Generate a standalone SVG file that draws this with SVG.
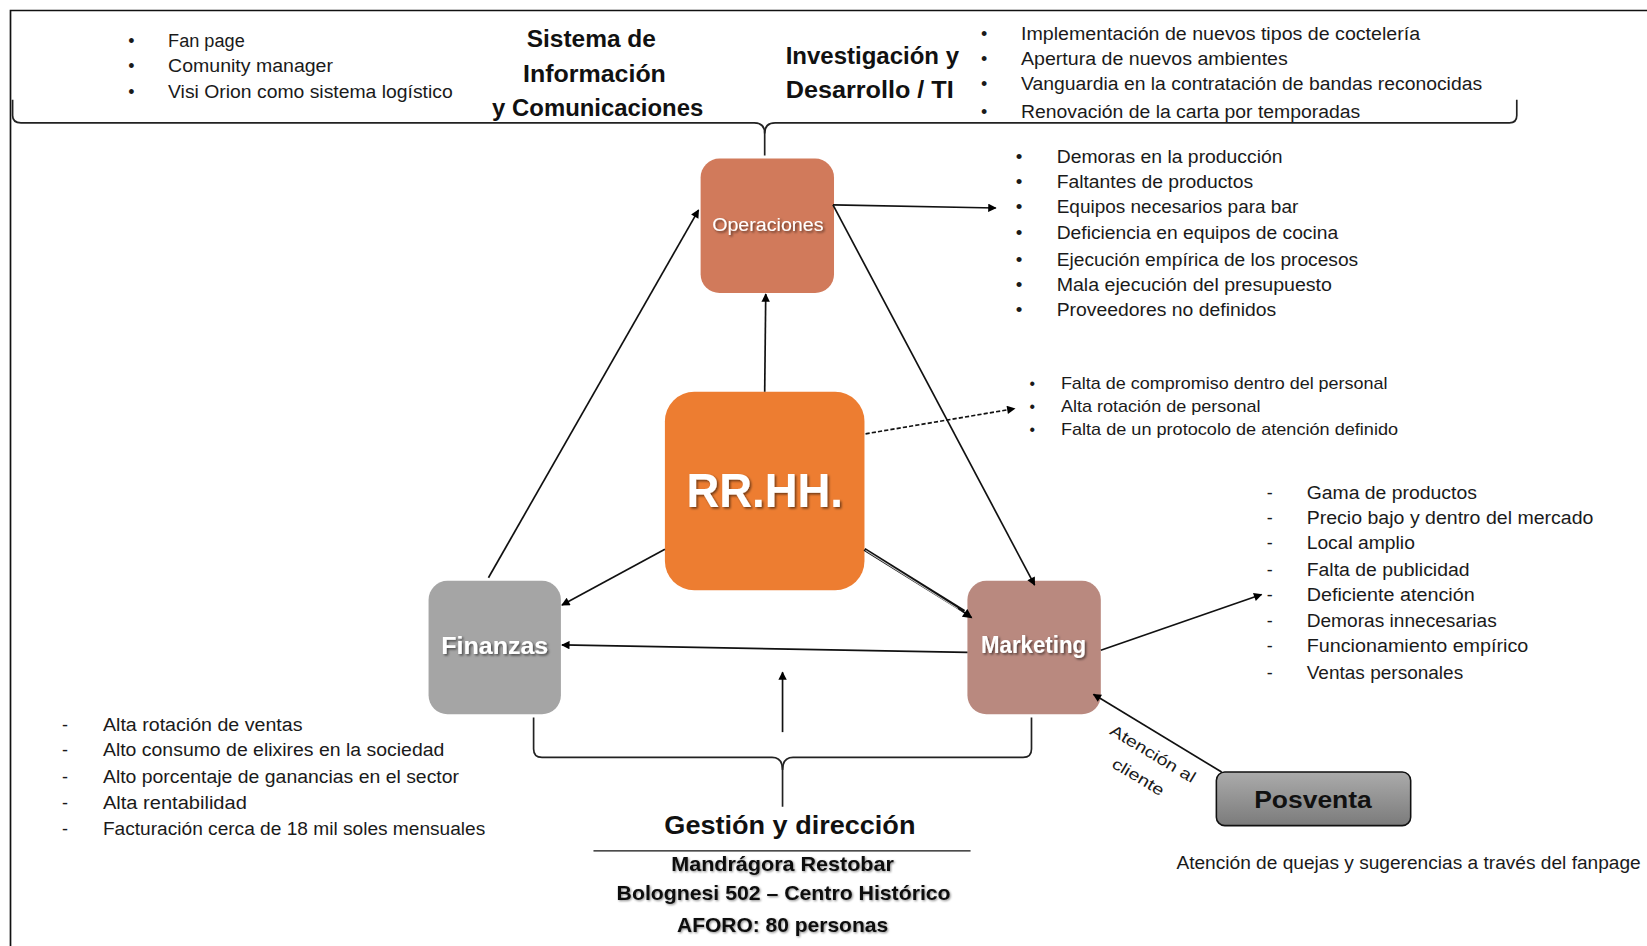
<svg xmlns="http://www.w3.org/2000/svg" width="1647" height="946" viewBox="0 0 1647 946">
<style>
.t{font-family:"Liberation Sans",Arial,sans-serif;fill:#1a1a1a}
.s{font-size:17px}
.m{font-size:15px}
.b{font-family:"Liberation Sans",Arial,sans-serif;font-weight:bold;fill:#111}
.w{font-family:"Liberation Sans",Arial,sans-serif;font-weight:bold;fill:#fff}
.wn{font-family:"Liberation Sans",Arial,sans-serif;font-weight:normal;fill:#fff}
.ln{fill:none;stroke:#111;stroke-width:1.6}
.br{fill:none;stroke:#222;stroke-width:1.6}
</style>
<defs>
<marker id="ah" viewBox="0 0 10 10" refX="9" refY="5" markerWidth="9" markerHeight="8" markerUnits="userSpaceOnUse" orient="auto">
<path d="M0,0 L10,5 L0,10 z" fill="#000"/>
</marker>
<marker id="ah2" viewBox="0 0 10 10" refX="9" refY="5" markerWidth="10" markerHeight="9" markerUnits="userSpaceOnUse" orient="auto">
<path d="M0,0 L10,5 L0,10 z" fill="#000"/>
</marker>
<filter id="sh" x="-20%" y="-20%" width="140%" height="140%">
<feDropShadow dx="1.5" dy="1.5" stdDeviation="0.8" flood-color="#000" flood-opacity="0.55"/>
</filter>
<filter id="sh2" x="-10%" y="-30%" width="120%" height="160%">
<feDropShadow dx="1" dy="1" stdDeviation="1" flood-color="#000" flood-opacity="0.45"/>
</filter>
<linearGradient id="pg" x1="0" y1="0" x2="0" y2="1">
<stop offset="0" stop-color="#ababab"/>
<stop offset="1" stop-color="#7b7b7b"/>
</linearGradient>
</defs>
<g transform="scale(1.0504)">
<rect x="0" y="0" width="1568" height="901" fill="#fff"/>
<g id="frame">
<path d="M10,901 L10,10 L1568,10" fill="none" stroke="#111" stroke-width="1.6"/>
</g>

<g id="operaciones">
<rect x="667" y="151" width="127" height="128" rx="18" fill="#D17A5B"/>
<text class="wn" x="731" y="220" font-size="17" text-anchor="middle" textLength="106" lengthAdjust="spacingAndGlyphs" filter="url(#sh)">Operaciones</text>
</g>
<g id="rrhh">
<rect x="633" y="373" width="190" height="189" rx="28" fill="#ED7D31"/>
<text class="w" x="728" y="483" font-size="46" text-anchor="middle" textLength="149" lengthAdjust="spacingAndGlyphs" filter="url(#sh)">RR.HH.</text>
</g>
<g id="finanzas">
<rect x="408" y="553" width="126" height="127" rx="18" fill="#A5A5A5"/>
<text class="w" x="471" y="623" font-size="23" text-anchor="middle" textLength="102" lengthAdjust="spacingAndGlyphs" filter="url(#sh)">Finanzas</text>
</g>
<g id="marketing">
<rect x="921" y="553" width="127" height="127" rx="18" fill="#B9897F"/>
<text class="w" x="984" y="622" font-size="22" text-anchor="middle" textLength="100" lengthAdjust="spacingAndGlyphs" filter="url(#sh)">Marketing</text>
</g>
<g id="posventa">
<rect x="1158" y="735" width="185" height="51" rx="8" fill="url(#pg)" stroke="#111" stroke-width="1.5"/>
<text class="b" x="1250" y="769" font-size="23" text-anchor="middle" textLength="112" lengthAdjust="spacingAndGlyphs">Posventa</text>
</g>

<g id="connectors">
<path class="br" d="M12,95 L12,110 Q12,117 20,117 L718,117 Q728,117 728,127 L728,148"/>
<path class="br" d="M728,127 Q728,117 738,117 L1437,117 Q1444,117 1444,110 L1444,95"/>
<path class="br" d="M508,683 L508,713 Q508,721 516,721 L735,721 Q745,721 745,733 L745,768"/>
<path class="br" d="M745,733 Q745,721 755,721 L974,721 Q982,721 982,713 L982,683"/>
<line class="ln" x1="728" y1="373" x2="729" y2="280" marker-end="url(#ah)"/>
<line class="ln" x1="465" y1="550" x2="665" y2="200" marker-end="url(#ah)"/>
<line class="ln" x1="793" y1="195" x2="985" y2="557" marker-end="url(#ah)"/>
<line class="ln" x1="793" y1="195" x2="948" y2="198" marker-end="url(#ah)"/>
<line class="ln" x1="824" y1="413" x2="966" y2="389" stroke-dasharray="4,2" marker-end="url(#ah)"/>
<line class="ln" x1="633" y1="523" x2="535" y2="576" marker-end="url(#ah)"/>
<line x1="823" y1="523" x2="918" y2="582" stroke="#111" stroke-width="3.2"/>
<line x1="824" y1="524" x2="916" y2="582" stroke="#ccc" stroke-width="1"/>
<line class="ln" x1="912" y1="579" x2="925" y2="588" marker-end="url(#ah2)"/>
<line class="ln" x1="921" y1="621" x2="535" y2="614" marker-end="url(#ah)"/>
<line class="ln" x1="745" y1="697" x2="745" y2="640" marker-end="url(#ah)"/>
<line class="ln" x1="1048" y1="619" x2="1201" y2="566" marker-end="url(#ah)"/>
<line class="ln" x1="1163" y1="735" x2="1041" y2="661" marker-end="url(#ah)"/>
</g>

<g id="sistema-info">
<text class="b" font-size="22" text-anchor="middle">
<tspan x="566" y="45" textLength="123" lengthAdjust="spacingAndGlyphs">Sistema de</tspan>
<tspan x="569" y="78" textLength="136" lengthAdjust="spacingAndGlyphs">Información</tspan>
<tspan x="569" y="110" textLength="201" lengthAdjust="spacingAndGlyphs">y Comunicaciones</tspan>
</text>
<g class="t s">
<text x="122" y="45">•</text><text x="160" y="45" textLength="73" lengthAdjust="spacingAndGlyphs">Fan page</text>
<text x="122" y="69">•</text><text x="160" y="69" textLength="157" lengthAdjust="spacingAndGlyphs">Comunity manager</text>
<text x="122" y="93">•</text><text x="160" y="93" textLength="271" lengthAdjust="spacingAndGlyphs">Visi Orion como sistema logístico</text>
</g>
</g>

<g id="investigacion">
<text class="b" font-size="22">
<tspan x="748" y="61" textLength="165" lengthAdjust="spacingAndGlyphs">Investigación y</tspan>
<tspan x="748" y="93" textLength="160" lengthAdjust="spacingAndGlyphs">Desarrollo / TI</tspan>
</text>
<g class="t s">
<text x="934" y="38">•</text><text x="972" y="38" textLength="380" lengthAdjust="spacingAndGlyphs">Implementación de nuevos tipos de coctelería</text>
<text x="934" y="62">•</text><text x="972" y="62" textLength="254" lengthAdjust="spacingAndGlyphs">Apertura de nuevos ambientes</text>
<text x="934" y="86">•</text><text x="972" y="86" textLength="439" lengthAdjust="spacingAndGlyphs">Vanguardia en la contratación de bandas reconocidas</text>
<text x="934" y="112">•</text><text x="972" y="112" textLength="323" lengthAdjust="spacingAndGlyphs">Renovación de la carta por temporadas</text>
</g>
</g>

<g id="operaciones-list" class="t" font-size="18">
<text x="967" y="155">•</text><text x="1006" y="155" textLength="215" lengthAdjust="spacingAndGlyphs">Demoras en la producción</text>
<text x="967" y="179">•</text><text x="1006" y="179" textLength="187" lengthAdjust="spacingAndGlyphs">Faltantes de productos</text>
<text x="967" y="203">•</text><text x="1006" y="203" textLength="230" lengthAdjust="spacingAndGlyphs">Equipos necesarios para bar</text>
<text x="967" y="228">•</text><text x="1006" y="228" textLength="268" lengthAdjust="spacingAndGlyphs">Deficiencia en equipos de cocina</text>
<text x="967" y="253">•</text><text x="1006" y="253" textLength="287" lengthAdjust="spacingAndGlyphs">Ejecución empírica de los procesos</text>
<text x="967" y="277">•</text><text x="1006" y="277" textLength="262" lengthAdjust="spacingAndGlyphs">Mala ejecución del presupuesto</text>
<text x="967" y="301">•</text><text x="1006" y="301" textLength="209" lengthAdjust="spacingAndGlyphs">Proveedores no definidos</text>
</g>

<g id="rrhh-list" class="t m">
<text x="980" y="370">•</text><text x="1010" y="370" textLength="311" lengthAdjust="spacingAndGlyphs">Falta de compromiso dentro del personal</text>
<text x="980" y="392">•</text><text x="1010" y="392" textLength="190" lengthAdjust="spacingAndGlyphs">Alta rotación de personal</text>
<text x="980" y="414">•</text><text x="1010" y="414" textLength="321" lengthAdjust="spacingAndGlyphs">Falta de un protocolo de atención definido</text>
</g>

<g id="marketing-list" class="t s">
<text x="1206" y="475">-</text><text x="1244" y="475" textLength="162" lengthAdjust="spacingAndGlyphs">Gama de productos</text>
<text x="1206" y="499">-</text><text x="1244" y="499" textLength="273" lengthAdjust="spacingAndGlyphs">Precio bajo y dentro del mercado</text>
<text x="1206" y="523">-</text><text x="1244" y="523" textLength="103" lengthAdjust="spacingAndGlyphs">Local amplio</text>
<text x="1206" y="548">-</text><text x="1244" y="548" textLength="155" lengthAdjust="spacingAndGlyphs">Falta de publicidad</text>
<text x="1206" y="572">-</text><text x="1244" y="572" textLength="160" lengthAdjust="spacingAndGlyphs">Deficiente atención</text>
<text x="1206" y="597">-</text><text x="1244" y="597" textLength="181" lengthAdjust="spacingAndGlyphs">Demoras innecesarias</text>
<text x="1206" y="621">-</text><text x="1244" y="621" textLength="211" lengthAdjust="spacingAndGlyphs">Funcionamiento empírico</text>
<text x="1206" y="646">-</text><text x="1244" y="646" textLength="149" lengthAdjust="spacingAndGlyphs">Ventas personales</text>
</g>

<g id="finanzas-list" class="t s">
<text x="59" y="696">-</text><text x="98" y="696" textLength="190" lengthAdjust="spacingAndGlyphs">Alta rotación de ventas</text>
<text x="59" y="720">-</text><text x="98" y="720" textLength="325" lengthAdjust="spacingAndGlyphs">Alto consumo de elixires en la sociedad</text>
<text x="59" y="745">-</text><text x="98" y="745" textLength="339" lengthAdjust="spacingAndGlyphs">Alto porcentaje de ganancias en el sector</text>
<text x="59" y="770">-</text><text x="98" y="770" textLength="137" lengthAdjust="spacingAndGlyphs">Alta rentabilidad</text>
<text x="59" y="795">-</text><text x="98" y="795" textLength="364" lengthAdjust="spacingAndGlyphs">Facturación cerca de 18 mil soles mensuales</text>
</g>

<g id="gestion">
<text class="b" x="752" y="794" font-size="24" text-anchor="middle" textLength="239" lengthAdjust="spacingAndGlyphs">Gestión y dirección</text>
<line x1="565" y1="810" x2="924" y2="810" stroke="#111" stroke-width="1.3"/>
<g class="b" font-size="20" text-anchor="middle" filter="url(#sh2)">
<text x="745" y="829" textLength="212" lengthAdjust="spacingAndGlyphs">Mandrágora Restobar</text>
<text x="746" y="857" textLength="318" lengthAdjust="spacingAndGlyphs">Bolognesi 502 – Centro Histórico</text>
<text x="745" y="887" textLength="201" lengthAdjust="spacingAndGlyphs">AFORO: 80 personas</text>
</g>
</g>

<g id="posventa-labels">
<text class="t" font-size="15" text-anchor="middle" transform="translate(1095,722) rotate(31)" textLength="92" lengthAdjust="spacingAndGlyphs">Atención al</text>
<text class="t" font-size="15" text-anchor="middle" transform="translate(1081,744) rotate(31)" textLength="55" lengthAdjust="spacingAndGlyphs">cliente</text>
<text class="t s" x="1120" y="827" textLength="442" lengthAdjust="spacingAndGlyphs">Atención de quejas y sugerencias a través del fanpage</text>
</g>
</g>
</svg>
